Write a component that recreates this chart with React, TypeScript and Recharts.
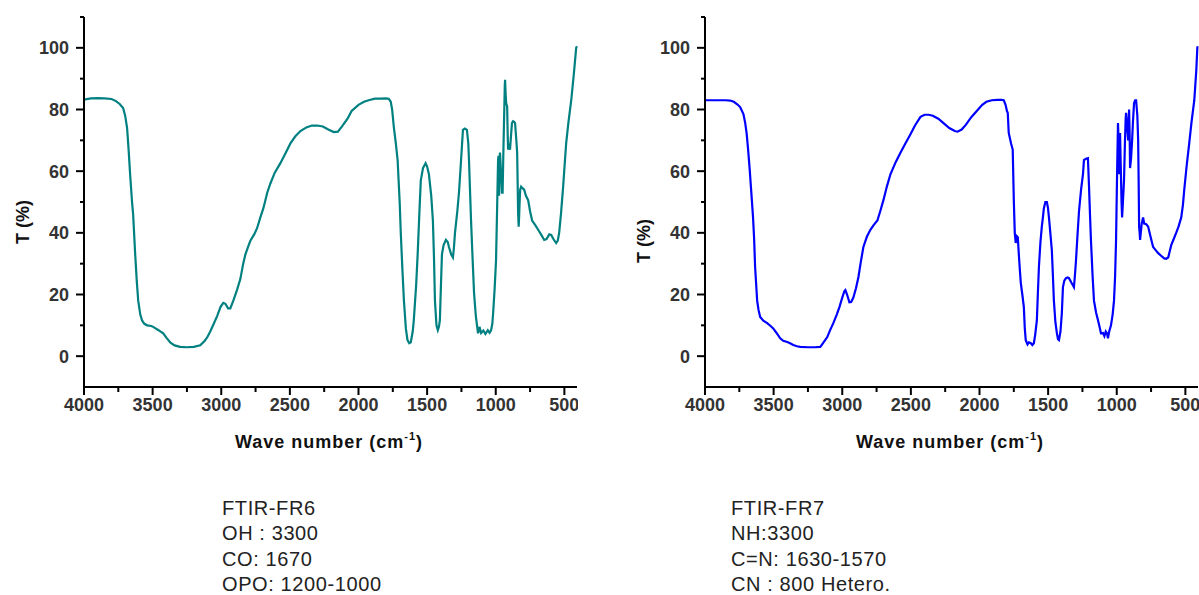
import { Label, Line, LineChart, XAxis, YAxis } from 'recharts'

// FTIR spectra (wave number in cm-1, transmittance in %)
const fr6Wave = [
  4000, 3950, 3900, 3850, 3800, 3770, 3740, 3715, 3700, 3686, 3675, 3664, 3650, 3642, 3627, 3615,
  3605, 3590, 3576, 3560, 3540, 3510, 3496, 3460, 3423, 3400, 3370, 3340, 3300, 3250, 3200, 3153,
  3120, 3101, 3080, 3058, 3030, 3005, 2985, 2970, 2950, 2934, 2912, 2885, 2861, 2840, 2824, 2800,
  2787, 2760, 2739, 2715, 2693, 2665, 2642, 2610, 2569, 2530, 2496, 2460, 2423, 2380, 2340, 2300,
  2260, 2220, 2180, 2150, 2120, 2080, 2050, 2000, 1960, 1920, 1880, 1840, 1800, 1780, 1765, 1755,
  1742, 1728, 1715, 1700, 1692, 1680, 1669, 1655, 1643, 1630, 1619, 1605, 1597, 1580, 1569, 1555,
  1546, 1530, 1511, 1500, 1487, 1470, 1458, 1450, 1443, 1432, 1422, 1414, 1407, 1400, 1392, 1380,
  1363, 1350, 1341, 1325, 1312, 1305, 1297, 1280, 1268, 1255, 1239, 1225, 1210, 1200, 1195, 1180,
  1170, 1158, 1145, 1129, 1118, 1107, 1090, 1075, 1058, 1045, 1034, 1025, 1019, 1008, 998, 990,
  983, 980, 976, 972, 969, 960, 955, 950, 945, 939, 934, 932, 928, 924, 917, 913,
  910, 903, 896, 888, 882, 874, 866, 859, 850, 844, 840, 837, 833, 830, 826, 822,
  815, 805, 793, 780, 764, 750, 735, 712, 691, 670, 647, 630, 610, 596, 580, 560,
  548, 538, 525, 509, 495, 487, 470, 450, 430, 414, 408,
]
const fr6T = [
  83.2, 83.6, 83.7, 83.6, 83.4, 82.8, 81.8, 80.5, 78, 74, 67, 59, 50, 46, 33, 24,
  18, 13.5, 11.5, 10.5, 10, 9.8, 9.5, 8.5, 7.4, 6, 4.4, 3.5, 3.0, 2.9, 3.0, 3.5,
  5, 6.2, 8, 10.2, 13, 16, 17.3, 17, 15.5, 15.5, 18, 21.5, 25, 30, 33, 36,
  37.5, 39.5, 41.5, 45, 48, 53, 56, 59.5, 62.6, 66, 69, 71.3, 73, 74.2, 74.8, 74.8,
  74.5, 73.5, 72.7, 72.8, 74.5, 77, 79.5, 81.5, 82.5, 83.1, 83.5, 83.5, 83.6, 83.5, 82.5, 80,
  74, 69, 63.6, 50, 40, 28, 18, 9, 5.2, 4.2, 4.5, 8, 11.7, 23, 33, 48,
  57, 61, 62.6, 61.5, 59, 52, 44, 32, 18, 10, 8.4, 9.5, 11.7, 22, 33, 36,
  37.7, 37, 35.4, 33, 32, 35, 40, 47, 53, 62, 73.4, 73.8, 73.4, 69, 63.6, 44,
  33, 20.4, 13, 7.4, 9.5, 7.5, 8.3, 7.2, 8.4, 7.6, 8.4, 10.5, 14, 22, 31, 48,
  63.6, 65, 52, 64, 66, 58, 53, 53, 65, 77.6, 88, 89.6, 85, 82, 81, 72,
  67, 68, 67, 72, 75.6, 76.2, 76, 75.6, 70, 66, 55, 46.4, 42, 45, 50, 54,
  55, 54.5, 54, 52, 50.6, 47, 44, 42.5, 41, 39.5, 37.7, 38, 39.5, 39.3, 38, 36.7,
  37.5, 40, 46, 55, 64, 69, 76, 83, 92, 100, 100.5,
]

const fr7Wave = [
  4000, 3950, 3900, 3850, 3817, 3790, 3765, 3744, 3720, 3707, 3696, 3686, 3675, 3664, 3650, 3642,
  3635, 3620, 3610, 3598, 3575, 3547, 3520, 3503, 3480, 3452, 3430, 3401, 3380, 3357, 3330, 3306,
  3250, 3200, 3160, 3140, 3109, 3090, 3065, 3040, 3020, 3000, 2985, 2977, 2965, 2948, 2935, 2919,
  2900, 2882, 2865, 2846, 2820, 2795, 2770, 2744, 2720, 2700, 2675, 2649, 2610, 2576, 2540, 2503,
  2470, 2430, 2400, 2370, 2340, 2300, 2260, 2220, 2180, 2160, 2130, 2100, 2060, 2020, 1980, 1950,
  1910, 1870, 1840, 1823, 1810, 1800, 1794, 1787, 1770, 1758, 1750, 1743, 1736, 1730, 1721, 1714,
  1706, 1699, 1688, 1677, 1670, 1663, 1650, 1640, 1626, 1615, 1604, 1594, 1582, 1575, 1567, 1556,
  1546, 1538, 1531, 1520, 1509, 1501, 1494, 1484, 1473, 1465, 1458, 1447, 1436, 1428, 1421, 1410,
  1400, 1392, 1382, 1370, 1358, 1348, 1330, 1312, 1305, 1297, 1285, 1275, 1260, 1246, 1239, 1225,
  1210, 1202, 1195, 1188, 1176, 1166, 1150, 1137, 1125, 1115, 1100, 1090, 1080, 1071, 1064, 1055,
  1042, 1030, 1020, 1012, 1005, 998, 991, 987, 983, 980, 976, 970, 965, 961, 955, 947,
  940, 935, 932, 925, 917, 913, 910, 906, 903, 896, 888, 882, 874, 866, 859, 850,
  844, 840, 837, 833, 830, 825, 818, 808, 800, 785, 771, 755, 735, 715, 698, 675,
  654, 640, 625, 614, 603, 585, 567, 550, 530, 518, 508, 490, 472, 455, 435, 420,
  413, 410,
]
const fr7T = [
  83.0, 83.0, 83.0, 83.0, 82.9, 82.5, 81.7, 80.8, 78.5, 75.6, 72, 67, 61, 54, 45, 38,
  29, 18, 15, 12.7, 11.5, 10.7, 9.7, 9, 7.6, 5.8, 5, 4.6, 4.2, 3.6, 3.2, 3.0,
  2.9, 2.9, 3.0, 4.2, 6.2, 8.3, 10.7, 13.5, 16, 19, 21, 21.4, 20, 17.5, 17.6, 19,
  22, 25.7, 30.5, 35.4, 38.8, 41, 42.6, 44, 47.5, 50.6, 55, 59, 63, 66, 69, 72,
  74.8, 77.6, 78.3, 78.3, 78, 77, 75.5, 74, 73, 72.8, 73.5, 75, 77.5, 79.5, 81.5, 82.5,
  83, 83.1, 83.1, 83, 81.5, 79.5, 78.9, 72.4, 69, 67, 50.6, 40, 36.7, 39, 38.6, 33.4,
  28, 23.7, 20, 16, 9, 5.2, 3.8, 4.5, 4.2, 3.6, 4.2, 7, 11.7, 20, 29, 37,
  42, 45, 48, 50, 50, 48, 45, 40, 34.4, 26, 18, 11, 7.4, 5.5, 5.2, 8,
  14, 22.4, 24.5, 25.3, 25.5, 25.3, 23.8, 22.4, 26, 31, 40, 47, 54, 59, 63.6, 64,
  64.2, 55, 46, 37.7, 26, 18, 14, 11.7, 9.5, 7.4, 7.5, 6.5, 8, 7.4, 5.8, 8,
  10, 13.5, 18, 26, 37.7, 58, 75.6, 70, 59, 66, 72.4, 60, 50, 45, 50, 57,
  70, 77, 78.9, 75, 70, 76, 80, 72, 61, 64, 70, 76, 82, 83, 83, 78,
  70, 55, 42, 40, 37.7, 40, 43, 45, 43, 42.8, 42, 39, 35.4, 34.3, 33.4, 32.5,
  31.7, 31.6, 32, 34, 36, 38, 40, 42, 45, 49, 54, 62, 69, 76, 83, 93,
  100, 100.5,
]

const xTicks = [4000, 3750, 3500, 3250, 3000, 2750, 2500, 2250, 2000, 1750, 1500, 1250, 1000, 750, 500]
const yTicks = [0, 10, 20, 30, 40, 50, 60, 70, 80, 90, 100, 110]

const notesFr6 = ['FTIR-FR6', 'OH : 3300', 'CO: 1670', 'OPO: 1200-1000']
const notesFr7 = ['FTIR-FR7', 'NH:3300', 'C=N: 1630-1570', 'CN : 800 Hetero.']

const FONT = '"Liberation Sans", Arial, sans-serif'
const TICK_COLOR = '#333'

function YTick({ x, y, payload }: any) {
  const major = payload.value % 20 === 0 && payload.value <= 100
  return (
    <g>
      <line x1={x - (major ? 8 : 4)} x2={x} y1={y} y2={y} stroke="#000" strokeWidth={2} />
      {major && (
        <text x={x - 15} y={y} dy={6.5} textAnchor="end" fontSize={18} fontWeight="bold" fill={TICK_COLOR} fontFamily={FONT}>
          {payload.value}
        </text>
      )}
    </g>
  )
}

function XTick({ x, y, payload }: any) {
  const major = payload.value % 500 === 0
  return (
    <g>
      <line x1={x} x2={x} y1={y} y2={y + (major ? 8 : 5)} stroke="#000" strokeWidth={2} />
      {major && (
        <text x={x} y={y + 24} textAnchor="middle" fontSize={18} fontWeight="bold" fill={TICK_COLOR} fontFamily={FONT}>
          {payload.value}
        </text>
      )}
    </g>
  )
}

function Spectrum({
  wave,
  t,
  color,
  left,
  yLabelY,
}: {
  wave: number[]
  t: number[]
  color: string
  left: number
  yLabelY: number
}) {
  const data = wave.map((w, i) => ({ wn: w, t: t[i] }))
  return (
    <div style={{ position: 'absolute', left, top: 0 }}>
      <LineChart width={578} height={460} data={data} margin={{ top: 17, right: 1, bottom: 8, left: 0 }}>
        <XAxis
          dataKey="wn"
          type="number"
          domain={[408, 4000]}
          reversed
          ticks={xTicks}
          interval={0}
          tick={<XTick />}
          tickLine={false}
          tickSize={0}
          tickMargin={0}
          height={65}
          axisLine={{ stroke: '#000', strokeWidth: 2 }}
        >
          <Label
            content={() => (
              <text x={329} y={448} textAnchor="middle" fontSize={18} fontWeight="bold" letterSpacing={1} fill="#111" fontFamily={FONT}>
                Wave number (cm
                <tspan dy={-8} fontSize={11}>-1</tspan>
                <tspan dy={8}>)</tspan>
              </text>
            )}
          />
        </XAxis>
        <YAxis
          type="number"
          domain={[-10, 110]}
          ticks={yTicks}
          interval={0}
          tick={<YTick />}
          tickLine={false}
          tickSize={0}
          tickMargin={0}
          width={84}
          axisLine={{ stroke: '#000', strokeWidth: 2 }}
        >
          <Label
            content={() => (
              <text
                x={23}
                y={yLabelY}
                transform={`rotate(-90 23 ${yLabelY})`}
                textAnchor="middle"
                dominantBaseline="central"
                fontSize={18}
                fontWeight="bold"
                fill="#111"
                fontFamily={FONT}
              >
                T (%)
              </text>
            )}
          />
        </YAxis>
        <Line type="linear" dataKey="t" stroke={color} strokeWidth={2.2} dot={false} isAnimationActive={false} />
      </LineChart>
    </div>
  )
}

function Notes({ lines, left }: { lines: string[]; left: number }) {
  return (
    <div
      style={{
        position: 'absolute',
        left,
        top: 498,
        fontFamily: FONT,
        fontSize: 20,
        lineHeight: '20px',
        letterSpacing: 0.6,
        color: '#222',
      }}
    >
      {lines.map((l) => (
        <div key={l} style={{ height: 20, marginBottom: 5.3 }}>
          {l}
        </div>
      ))}
    </div>
  )
}

export default function App() {
  return (
    <div style={{ position: 'absolute', left: 0, top: 0, width: 1199, height: 595, overflow: 'hidden', background: '#fff' }}>
      <Spectrum wave={fr6Wave} t={fr6T} color="#008080" left={0} yLabelY={222} />
      <Spectrum wave={fr7Wave} t={fr7T} color="#0000ff" left={621} yLabelY={241} />
      <Notes lines={notesFr6} left={222} />
      <Notes lines={notesFr7} left={731} />
    </div>
  )
}
